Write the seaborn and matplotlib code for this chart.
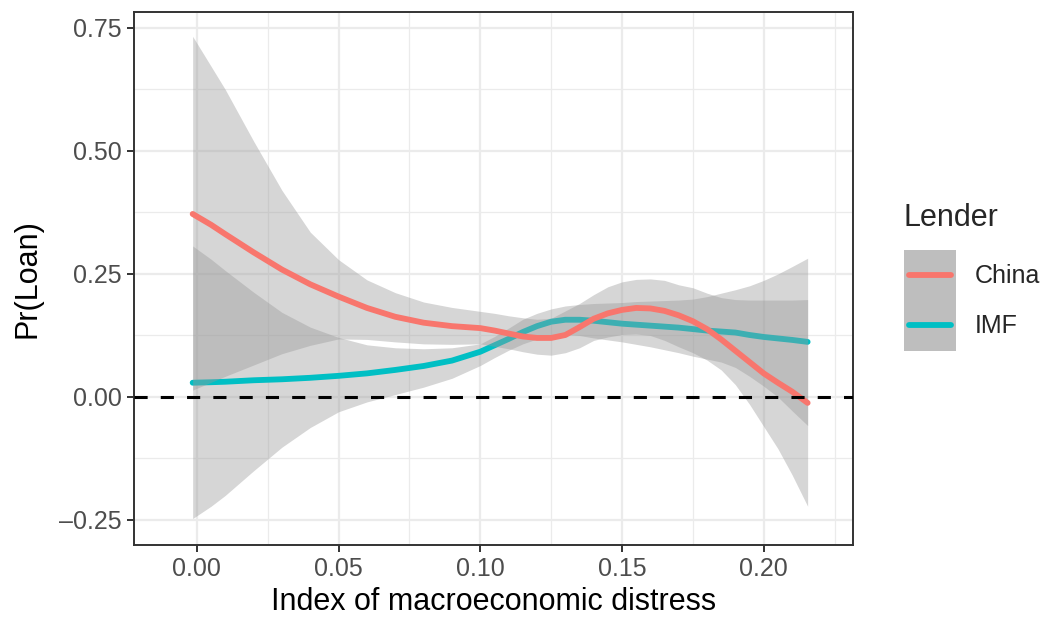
import matplotlib
matplotlib.use("Agg")
import matplotlib.pyplot as plt
from matplotlib.lines import Line2D
from matplotlib.patches import Patch
from matplotlib.legend_handler import HandlerTuple, HandlerLine2D
from matplotlib.ticker import MultipleLocator, FixedLocator
import pandas as pd
import seaborn as sns

# ── Data ────────────────────────────────────────────────────────────────────
x_grid = [-0.0015, 0.005, 0.01, 0.02, 0.03, 0.04, 0.05, 0.06, 0.07, 0.08,
          0.09, 0.10, 0.105, 0.11, 0.115, 0.12, 0.125, 0.13, 0.135, 0.14,
          0.145, 0.15, 0.155, 0.16, 0.165, 0.17, 0.175, 0.18, 0.185, 0.19,
          0.195, 0.20, 0.205, 0.21, 0.2155]

china_fit = [0.372, 0.350, 0.331, 0.294, 0.259, 0.229, 0.204, 0.181, 0.163, 0.151,
             0.144, 0.140, 0.135, 0.129, 0.123, 0.120, 0.120, 0.126, 0.142, 0.159,
             0.170, 0.177, 0.181, 0.180, 0.175, 0.166, 0.154, 0.138, 0.117, 0.094,
             0.071, 0.048, 0.029, 0.011, -0.012]
china_lo = [0.014, 0.030, 0.042, 0.065, 0.088, 0.105, 0.118, 0.117, 0.112, 0.108,
            0.107, 0.108, 0.103, 0.098, 0.092, 0.087, 0.085, 0.090, 0.100, 0.115,
            0.122, 0.127, 0.128, 0.125, 0.115, 0.102, 0.090, 0.075, 0.055, 0.025,
            -0.015, -0.060, -0.105, -0.158, -0.222]
china_hi = [0.733, 0.672, 0.625, 0.520, 0.420, 0.335, 0.279, 0.238, 0.212, 0.193,
            0.182, 0.174, 0.170, 0.165, 0.161, 0.158, 0.160, 0.175, 0.190, 0.208,
            0.224, 0.234, 0.239, 0.240, 0.237, 0.228, 0.222, 0.211, 0.202, 0.198,
            0.197, 0.197, 0.197, 0.197, 0.198]

imf_fit = [0.029, 0.030, 0.031, 0.034, 0.036, 0.039, 0.043, 0.048, 0.055, 0.063,
           0.074, 0.092, 0.105, 0.118, 0.132, 0.144, 0.153, 0.157, 0.157, 0.155,
           0.152, 0.149, 0.147, 0.145, 0.143, 0.141, 0.138, 0.135, 0.133, 0.131,
           0.126, 0.122, 0.119, 0.116, 0.112]
imf_lo = [-0.247, -0.222, -0.200, -0.150, -0.102, -0.062, -0.030, -0.010, 0.005, 0.020,
          0.038, 0.064, 0.080, 0.095, 0.108, 0.118, 0.125, 0.127, 0.125, 0.120,
          0.116, 0.112, 0.107, 0.102, 0.096, 0.090, 0.083, 0.077, 0.071, 0.060,
          0.042, 0.022, 0.000, -0.028, -0.058]
imf_hi = [0.307, 0.280, 0.257, 0.213, 0.172, 0.142, 0.121, 0.106, 0.100, 0.098,
          0.100, 0.108, 0.123, 0.140, 0.158, 0.170, 0.179, 0.185, 0.188, 0.190,
          0.191, 0.192, 0.194, 0.195, 0.196, 0.197, 0.199, 0.204, 0.211, 0.218,
          0.226, 0.237, 0.250, 0.265, 0.282]

lenders = ["China", "IMF"]
colors = {"China": "#F8766D", "IMF": "#00BFC4"}

x_ticks = [0.00, 0.05, 0.10, 0.15, 0.20]
y_ticks = [-0.25, 0.00, 0.25, 0.50, 0.75]

df = pd.DataFrame({
    "x": x_grid * 2,
    "fit": china_fit + imf_fit,
    "lo": china_lo + imf_lo,
    "hi": china_hi + imf_hi,
    "Lender": ["China"] * len(x_grid) + ["IMF"] * len(x_grid),
})


# legend line centred on the grey key box, inset a little like ggplot
class CenteredLine(HandlerLine2D):
    def create_artists(self, legend, orig_handle, xdescent, ydescent,
                       width, height, fontsize, trans):
        arts = super().create_artists(legend, orig_handle, xdescent, ydescent,
                                      width, height, fontsize, trans)
        for a in arts:
            if isinstance(a, Line2D):
                a.set_ydata([height / 2 - ydescent] * len(a.get_xdata()))
        return arts


# ── Plot ────────────────────────────────────────────────────────────────────
sns.set_theme(style="white")
plt.rcParams["font.family"] = ["Liberation Sans", "DejaVu Sans"]

fig = plt.figure(figsize=(10.42, 6.21), dpi=100)
ax = fig.add_axes([0.1286, 0.1224, 0.69, 0.8583])

# IMF drawn first so the China ribbon sits over the IMF line (as in ggplot)
z = 2
for lender in ["IMF", "China"]:
    sub = df[df["Lender"] == lender]
    ax.fill_between(sub["x"], sub["lo"], sub["hi"], color="#999999",
                    alpha=0.4, linewidth=0, zorder=z)
    sns.lineplot(data=sub, x="x", y="fit", color=colors[lender], lw=4.2,
                 ax=ax, legend=False, zorder=z + 1)
    z += 2

ax.axhline(0, color="black", lw=2.2, dashes=(4.3, 4.3), zorder=10)

ax.set_xlim(-0.0222, 0.2315)
ax.set_ylim(-0.3008, 0.7825)
ax.xaxis.set_major_locator(FixedLocator(x_ticks))
ax.yaxis.set_major_locator(FixedLocator(y_ticks))
ax.xaxis.set_minor_locator(MultipleLocator(0.025))
ax.yaxis.set_minor_locator(MultipleLocator(0.125))
ax.set_xticklabels([f"{v:.2f}" for v in x_ticks])
ax.set_yticklabels([f"{v:.2f}".replace("-", "\u2013") for v in y_ticks])

ax.grid(which="major", color="#EBEBEB", lw=1.6, zorder=0)
ax.grid(which="minor", color="#EBEBEB", lw=0.9, zorder=0)
ax.set_axisbelow(True)
for side in ax.spines.values():
    side.set_visible(True)
    side.set_color("#333333")
    side.set_linewidth(1.4)

ax.tick_params(which="major", length=5, width=1.4, color="#333333",
               labelsize=18, labelcolor="#4D4D4D", pad=4,
               bottom=True, left=True)
ax.tick_params(which="minor", length=0)
ax.set_xlabel("Index of macroeconomic distress", fontsize=22, color="black",
              labelpad=4)
ax.set_ylabel("Pr(Loan)", fontsize=22, color="black", labelpad=12)

# ── Legend ──────────────────────────────────────────────────────────────────
fig.text(904 / 1042, 1 - 218 / 621, "Lender", fontsize=22, va="center",
         ha="left")
handles = [(Patch(facecolor="#BEBEBE", edgecolor="none"),
            Line2D([], [], color=colors[l], lw=4.2)) for l in lenders]
fig.legend(handles, lenders,
           handler_map={tuple: HandlerTuple(ndivide=1),
                        Line2D: CenteredLine(marker_pad=0.2, numpoints=2)},
           loc="upper left", bbox_to_anchor=(904 / 1042, 1 - 250 / 621),
           frameon=False, fontsize=18, handlelength=2.08, handleheight=2.72,
           labelspacing=0, handletextpad=0.76, borderpad=0, borderaxespad=0)

fig.savefig("out.png", dpi=100)
